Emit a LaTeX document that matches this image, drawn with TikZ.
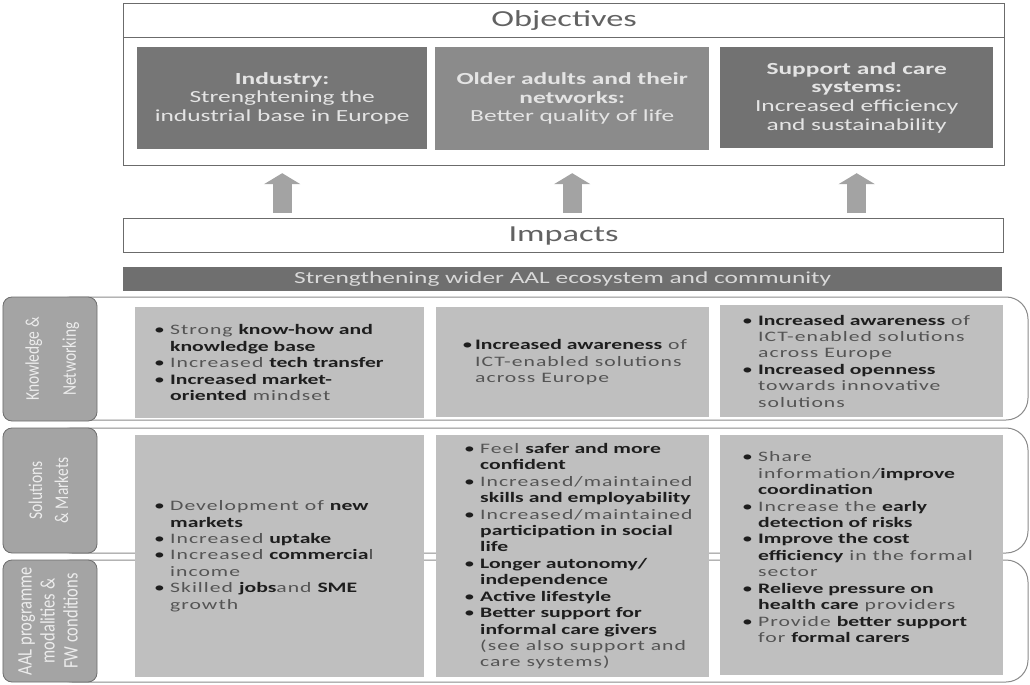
\documentclass[tikz,border=0pt]{standalone}
\usepackage{fontspec}
\setmainfont{Carlito}[FakeStretch=1.5]
\newfontfamily\bulreg{Carlito}[FakeStretch=1.5,LetterSpace=7]
\newfontfamily\labfont{Carlito}
\usetikzlibrary{arrows.meta}
\usepackage{graphicx}
\definecolor{cline}{HTML}{6B6B6B}
\definecolor{chdr}{HTML}{626262}
\definecolor{cind}{HTML}{767676}
\definecolor{cold}{HTML}{8B8B8B}
\definecolor{csup}{HTML}{727272}
\definecolor{cobjt}{HTML}{E4E4E4}
\definecolor{cbar}{HTML}{6F6F6F}
\definecolor{cbart}{HTML}{D9D9D9}
\definecolor{carrow}{HTML}{A3A3A3}
\definecolor{cframe}{HTML}{8A8A8A}
\definecolor{clab}{HTML}{A4A4A4}
\definecolor{clabd}{HTML}{6E6E6E}
\definecolor{clabt}{HTML}{ECECEC}
\definecolor{cboxf}{HTML}{BFBFBF}
\definecolor{treg}{HTML}{545454}
\definecolor{tdark}{HTML}{1E1E1E}
\newcommand\B[1]{{\rmfamily\bfseries\color{tdark}#1}}
\newcommand\bl{\makebox[16bp][l]{\rmfamily\color{tdark}•}}
\newcommand\blc{\makebox[13bp][l]{\rmfamily\color{tdark}•}}
\newcommand\ind{\hspace*{16bp}}
\newcommand\indc{\hspace*{13bp}}
\newcommand\lab[3]{\rotatebox{90}{\scalebox{1}[1.25]{\fontsize{#1bp}{#2bp}\selectfont\begin{tabular}{@{}c@{}}#3\end{tabular}}}}
\begin{document}
\begin{tikzpicture}[x=1bp,y=-1bp,
  hdr/.style={draw=cline, line width=1.2bp, inner sep=0, anchor=north west, text=chdr, font=\fontsize{23}{26}\selectfont},
  objbox/.style={inner sep=0, anchor=north west, text=cobjt, align=center, font=\fontsize{17}{18.7}\selectfont},
  barrow/.style={draw=carrow, line width=19bp, -{Triangle[width=36bp,length=11bp]}, shorten <=5bp, shorten >=7bp},
  rowframe/.style={draw=cframe, line width=1bp, rounded corners=22bp, minimum width=978bp, inner sep=0},
  labbox/.style={draw=clabd, fill=clab, line width=0.8bp, rounded corners=9bp, minimum width=94bp, inner sep=0, text=clabt, font=\labfont},
  cbox/.style={fill=cboxf, inner sep=0, anchor=north west},
  btext/.style={align=left, anchor=west, inner sep=0, text=treg, font=\bulreg\fontsize{14.5}{16.5}\selectfont}]
\useasboundingbox (0,0) rectangle (1030,685);
% Objectives
\node[hdr, minimum width=881bp, minimum height=162bp] (obj) at (123,3) {};
\node[hdr, minimum width=881bp, minimum height=34bp] (objt) at (123,3) {Objectives};
\node[objbox, fill=cind, minimum width=290bp, minimum height=102bp] (ind) at (137,47) {\textbf{Industry:}\\Strenghtening the\\industrial base in Europe};
\node[objbox, fill=cold, minimum width=274bp, minimum height=103bp] (old) at (435,47) {\textbf{Older adults and their}\\\textbf{networks:}\\Better quality of life};
\node[objbox, fill=csup, minimum width=273bp, minimum height=101bp] (sup) at (720,47) {\textbf{Support and care}\\\textbf{systems:}\\Increased efficiency\\and sustainability};
% Impacts
\node[hdr, minimum width=880bp, minimum height=34bp] (imp) at (123,218) {Impacts};
\node[anchor=north west, fill=cbar, minimum width=879bp, minimum height=24bp, inner sep=0, text=cbart, font=\fontsize{17}{19}\selectfont] (eco) at (123,267) {Strengthening wider AAL ecosystem and community};
% arrows
\draw[barrow] (ind.south |- imp.north) -- (ind.south |- obj.south);
\draw[barrow] (old.south |- imp.north) -- (old.south |- obj.south);
\draw[barrow] (sup.south |- imp.north) -- (sup.south |- obj.south);
% row frames
\node[rowframe, minimum height=123bp] (f1) at (539,358.5) {};
\node[rowframe, minimum height=125bp] (f2) at (539,490.5) {};
\node[rowframe, minimum height=122bp] (f3) at (539,621) {};
% labels
\node[labbox, minimum height=124bp] (l1) at (50,359) {\lab{15.5}{29.6}{Knowledge \&\\Networking}};
\node[labbox, minimum height=125bp] (l2) at (50,490.5) {\lab{15.5}{20.8}{Solutions\\\& Markets}};
\node[labbox, minimum height=122bp] (l3) at (50,621) {\lab{16.5}{18.4}{AAL programme\\modalities \&\\FW conditions}};
% content boxes
\node[cbox, minimum width=289bp, minimum height=111bp] (b11) at (135,307) {};
\node[cbox, minimum width=273bp, minimum height=110bp] (b12) at (436,307) {};
\node[cbox, minimum width=283bp, minimum height=112bp] (b13) at (720,305) {};
\node[cbox, minimum width=289bp, minimum height=242bp] (b21) at (135,435) {};
\node[cbox, minimum width=273bp, minimum height=242bp] (b22) at (436,435) {};
\node[cbox, minimum width=283bp, minimum height=240bp] (b23) at (720,435) {};
% texts
\node[btext] (t11) at ([xshift=19bp]b11.west) {\bl Strong \B{know-how and}\\\ind\B{knowledge base}\\\bl Increased \B{tech transfer}\\\bl\B{Increased market-}\\\ind\B{oriented} mindset};
\node[btext] (t12) at ([xshift=26bp]b12.west) {\blc\B{Increased awareness} of\\\indc ICT-enabled solutions\\\indc across Europe};
\node[btext] (t13) at ([xshift=22bp]b13.west) {\bl\B{Increased awareness} of\\\ind ICT-enabled solutions\\\ind across Europe\\\bl\B{Increased openness}\\\ind towards innovative\\\ind solutions};
\node[btext] (t21) at ([xshift=19bp]b21.west) {\bl Development of \B{new}\\\ind\B{markets}\\\bl Increased \B{uptake}\\\bl Increased \B{commercia}l\\\ind income\\\bl Skilled \B{jobs}and \B{SME}\\\ind growth};
\node[btext] (t22) at ([xshift=28bp]b22.west) {\bl Feel \B{safer and more}\\\ind\B{confident}\\\bl Increased/maintained\\\ind\B{skills and employability}\\\bl Increased/maintained\\\ind\B{participation in social}\\\ind\B{life}\\\bl\B{Longer autonomy/}\\\ind\B{independence}\\\bl\B{Active lifestyle}\\\bl\B{Better support for}\\\ind\B{informal care givers}\\\ind(see also support and\\\ind care systems)};
\node[btext] (t23) at ([xshift=22bp,yshift=8bp]b23.west) {\bl Share\\\ind information/\B{improve}\\\ind\B{coordination}\\\bl Increase the \B{early}\\\ind\B{detection of risks}\\\bl\B{Improve the cost}\\\ind\B{efficiency} in the formal\\\ind sector\\\bl\B{Relieve pressure on}\\\ind\B{health care} providers\\\bl Provide \B{better support}\\\ind for \B{formal carers}};
\end{tikzpicture}
\end{document}
